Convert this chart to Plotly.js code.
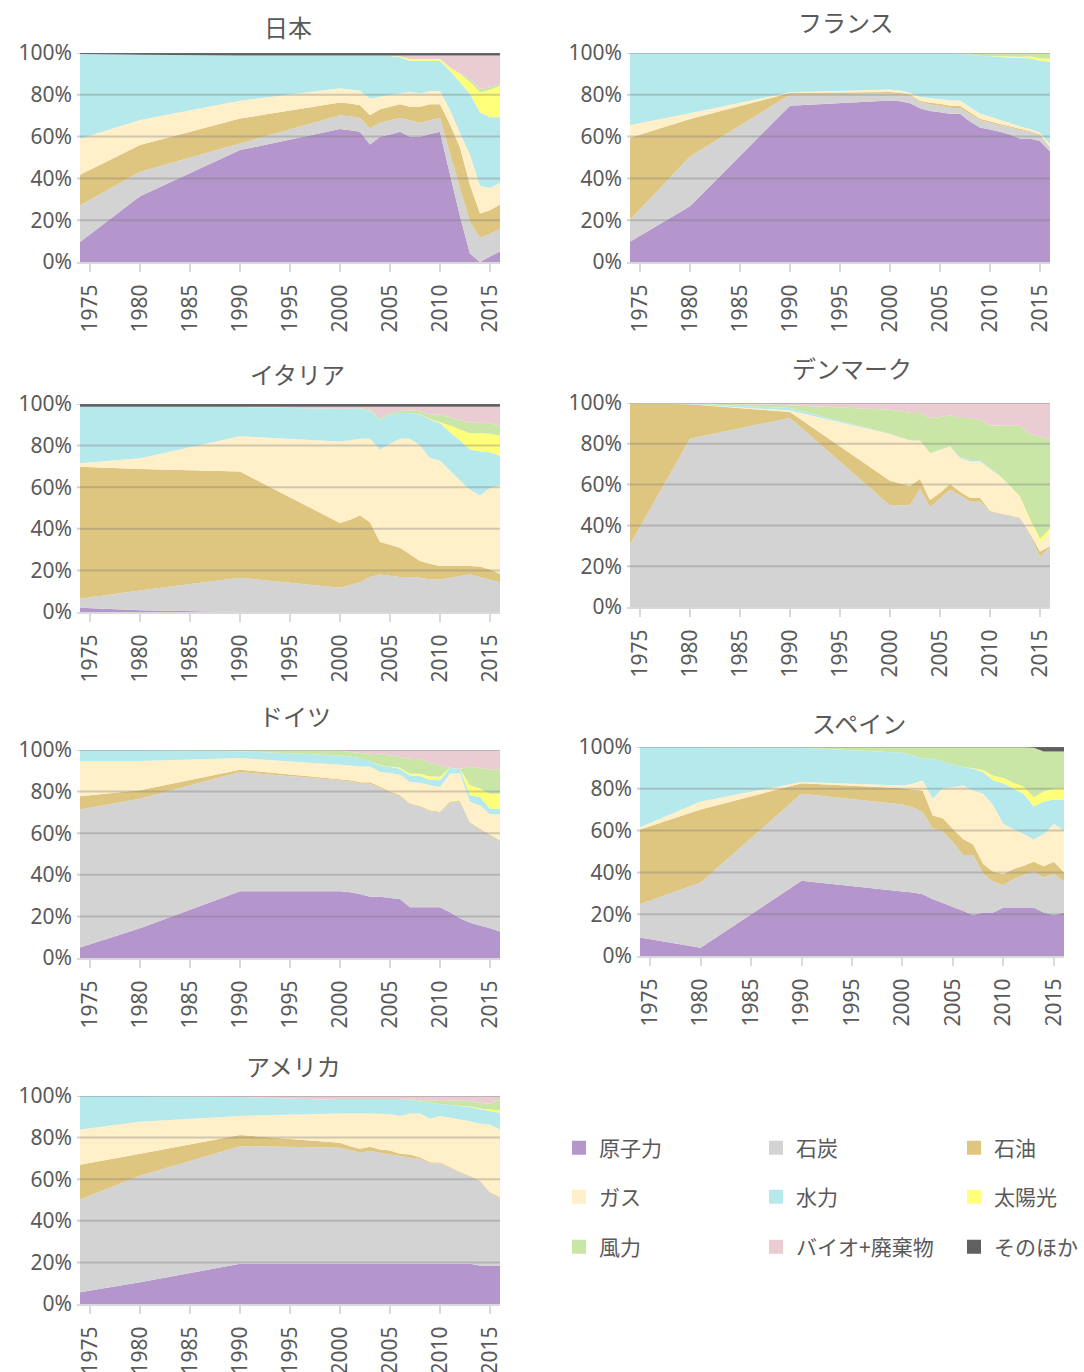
<!DOCTYPE html>
<html>
<head>
<meta charset="utf-8">
<script src="https://cdn.plot.ly/plotly-3.0.1.min.js"></script>
<style>html,body{margin:0;padding:0;background:#fff}#chart{width:1084px;height:1372px}</style>
</head>
<body>
<div id="chart"></div>
<script>
// ---------- data ----------
const years = [1974,1980,1990,2000,2001,2002,2003,2004,2005,2006,2007,2008,2009,2010,2011,2012,2013,2014,2015,2016];
const sources = ['原子力','石炭','石油','ガス','水力','太陽光','風力','バイオ+廃棄物','そのほか'];
const sourceColors = ['#B496CD','#D3D3D3','#DFC680','#FFF0C9','#B6E9EC','#FFFF7A','#C9E6A6','#E9CDD3','#606060'];
const countries = ['日本','フランス','イタリア','デンマーク','ドイツ','スペイン','アメリカ'];
const yTickVals = [0,20,40,60,80,100];
const yTickText = ['0%','20%','40%','60%','80%','100%'];

// shares (%) in order: 原子力, 石炭, 石油, ガス, 水力, 太陽光, 風力, バイオ+廃棄物, そのほか
const japanShares = [
  [9.6,31.6,53.8,63.9,63.4,62.6,56.5,60.2,61.3,62.6,60.2,60.2,61.5,62.6,42,22,4,0,2.7,5.1],
  [17.4,11.7,3.2,6.7,6.7,6.7,7.7,6.7,6.9,6.6,8.0,6.6,6.7,6.7,10,13.5,15.3,11.7,10.9,10.6],
  [14.7,12.9,12,6.1,6.1,6.1,6.4,6.5,6.4,6.6,6.4,7.8,7.6,6.5,14,19.5,17.7,11.6,11.3,11.9],
  [17.3,12,8.5,6.8,6.8,6.9,7.9,6.1,5.7,5.2,7.3,6.4,6.4,6.4,7,7,14.4,13.3,10.7,10.4],
  [40.5,31.3,21.8,15.8,16.3,17,20.8,19.8,18.7,17.4,14.9,15.8,14.6,14.6,18.9,24.3,29.3,35.3,33.9,31.5],
  [0,0,0,0,0,0,0,0,0.2,0.4,0.8,0.8,0.8,0.8,1.5,4,5.9,9.6,13.3,15.2],
  [0,0,0,0,0,0,0,0,0,0,0,0,0,0,0.2,0.3,1.3,1.6,1.1,1.1],
  [0,0,0,0,0,0,0,0,0.1,0.5,1.7,1.7,1.7,1.7,5.6,8.6,11.3,16.1,15.3,13.4],
  [0.5,0.8,1.2,1.2,1.2,1.2,1.2,1.2,1.2,1.2,1.2,1.2,1.2,1.2,1.2,1.2,1.2,1.2,1.2,1.2]
];
const franceShares = [
  [9.7,26.7,74.8,77.3,76.9,76,73.6,72.3,71.7,70.9,70.9,67.2,64.4,63.4,62.3,61,59.1,59.1,57.9,52.9],
  [10.5,23.8,5.3,3.3,3.4,3.5,2.9,3.0,3.1,2.9,2.7,3.6,3.4,3.2,3.1,3.3,4.1,3.1,2.6,1.7],
  [39.2,17.9,0.8,0.7,0.7,0.7,0.7,0.9,0.9,1.0,1.0,0.8,0.7,0.7,0.6,0.6,0.5,0.5,0.5,0.4],
  [6.1,2.8,0.3,1.2,1.0,0.8,1.8,2.1,2.3,2.5,2.7,2.4,2.5,2.3,2.0,1.6,1.1,0.9,0.8,1.5],
  [34.5,28.8,18.8,17.5,18,19,21,21.7,22,22.7,22.6,25.3,27.6,28.8,30.1,31.3,32.8,33.9,34.5,39.3],
  [0,0,0,0,0,0,0,0,0,0,0,0,0,0.1,0.3,0.5,0.6,0.8,1.2,1.4],
  [0,0,0,0,0,0,0,0,0,0,0.1,0.7,1.4,1.5,1.6,1.7,1.8,1.7,2.5,2.8],
  [0,0,0,0,0,0,0,0,0,0,0,0,0,0,0,0,0,0,0,0],
  [0,0,0,0,0,0,0,0,0,0,0,0,0,0,0,0,0,0,0,0]
];
const italyShares = [
  [2.1,0.8,0,0,0,0,0,0,0,0,0,0,0,0,0,0,0,0,0,0],
  [4.3,9.6,16.5,11.7,13,14.4,16.9,18.1,17.5,16.9,16.9,16.5,15.7,15.7,16.5,17.3,18.1,16.9,15.6,14.4],
  [63.7,58.6,51.2,31.2,31.5,32.1,26.4,15.6,14.9,14.1,10.9,8.1,7.6,6.5,5.7,4.9,4.1,5.1,4.9,4.1],
  [1.6,5.2,17.1,39.3,38.3,37,40.2,44.5,48.7,52.5,55.7,55.7,50.9,50.8,46,41.2,36.7,34.2,39.4,42.5],
  [27.3,24.8,14,15.7,15.1,14.4,13.6,14.4,14.1,12.5,12.5,14.9,18.6,18,18.5,19.3,19.4,21.3,17.1,14.4],
  [0,0,0,0,0,0,0,0,0,0,0,0.1,0.3,0.5,3.2,5.3,7.9,8.7,8.9,9.7],
  [0,0,0,0.1,0.2,0.4,0.5,0.6,0.8,1,1.3,1.5,2,3.7,4,4.6,5,5,5.1,4.8],
  [0,0,0.2,1,0.9,0.7,1.4,5.8,3,2,1.7,2.2,3.9,3.8,5.1,6.4,7.8,7.8,8,9.1],
  [1.3,1.3,1.3,1.3,1.3,1.3,1.3,1.3,1.3,1.3,1.3,1.3,1.3,1.3,1.3,1.3,1.3,1.3,1.3,1.3]
];
const denmarkShares = [
  [0,0,0,0,0,0,0,0,0,0,0,0,0,0,0,0,0,0,0,0],
  [30.5,82.3,92.7,49.9,49.9,49.9,58.1,48.8,53.2,57.3,54.8,51.6,51.6,46.6,45.8,44.7,43.3,35.1,24.8,29.4],
  [69,16.9,2.9,12,10.7,9.4,4.6,3.6,2.8,3,1.7,1.9,1.9,0.4,0.3,0.3,0.4,0.8,2.4,0.4],
  [0,0,0.7,22.9,22.5,22.3,18.8,23,21,18.4,16.4,17.8,17.8,20.7,18.1,14,9.8,5.8,4.3,6.1],
  [0.2,0.3,1.2,0.1,0.1,0.1,0.1,0.1,0.1,0.1,0.6,0.8,0.8,0.3,0.1,0.1,0.1,0.1,0.1,0.1],
  [0,0,0,0,0,0,0,0,0,0,0,0,0,0,0.1,0.3,0.5,1.2,2.0,2.5],
  [0,0.3,1.4,11.8,12.8,13.4,13.5,17.2,16,15.2,19.2,20.6,19.4,21,24.8,29.5,34.8,41.8,50,43.5],
  [0,0,1.1,3.3,4,4.9,4.9,7.3,6.9,6,7.3,7.3,8.5,11,11.1,11.1,11.1,15.2,16.4,18],
  [0,0,0,0,0,0,0,0,0,0,0,0,0,0,0,0,0,0,0,0]
];
const germanyShares = [
  [5.1,14.3,32.1,32.1,31.6,30.8,29.5,29.5,28.9,28.4,24.4,24.4,24.4,24.4,22,19.1,16.9,15.6,14.3,12.8],
  [66.3,62.3,57.3,53.3,53.3,53,54.3,52.4,50.6,49.4,49.4,48.2,46.1,45.4,52.6,55.9,47.9,46,44.6,43.2],
  [6.4,4,1.1,0.5,0.5,0.7,0.7,0.5,0.5,0.5,0.5,0.5,0.5,0.5,0.7,0.6,0.5,0.5,0.5,0.5],
  [16.9,14.1,5.6,7,7.2,7.6,7.6,7,8.9,9.8,10.3,11.2,12,11.9,13.4,13.3,9.7,11.3,9.7,12.6],
  [5.3,5.3,3.3,4.5,4.3,4,2.6,3.2,2.9,2.9,3.2,3.2,2.7,3.2,2.8,2,3.3,4,2.7,2.7],
  [0,0,0,0,0,0,0,0.1,0.2,0.5,0.8,1.1,1.5,1.7,0,0.1,4.7,4.1,7.2,7.2],
  [0,0,0.5,2.4,2.1,2.4,3.5,5.2,5.4,5.1,7.2,6.9,6.7,5.4,0,0.2,8.9,9.8,11.7,11.7],
  [0,0,0.1,0.2,1,1.5,1.8,2.1,2.6,3.4,4.2,4.5,6.1,7.5,8.5,9,8.1,8.7,9.3,9.3],
  [0,0,0,0,0,0,0,0,0,0,0,0,0,0,0,0,0,0,0,0]
];
const spainShares = [
  [8.8,4,36,30.9,30.4,29.6,27.2,25.3,23.5,21.6,19.5,20.8,20.8,23.2,23.2,23.2,23.2,20.8,19.5,20.8],
  [16,31.2,41.6,41.6,40.8,39.2,33.9,34.2,30.9,26.7,28.8,18.4,14.7,10.7,13.6,15.5,17.1,16.8,19.7,14.9],
  [35.7,34.9,5.1,7.8,8.5,10.4,6.1,6.4,6.4,7.7,5,4.8,4.8,5.3,4.8,4.5,4.8,5.3,5.9,4.3],
  [1.1,3.8,0.5,1.3,2.7,4.8,8,14.4,20,25.6,25.9,33.6,31.7,24,19.2,15.2,10.6,15.5,18.1,20],
  [38.4,26.1,16.5,15.7,13.6,10.4,19.2,12.8,10.7,8.8,10.4,10.4,12,19.5,19.2,19.2,15.8,15.5,11.7,14.9],
  [0,0,0,0,0,0,0,0,0,0,0.2,1,2.2,2.5,2.8,3.5,4.5,4.8,5.1,5.4],
  [0,0,0.3,2.7,4,5.6,5.6,6.9,8.5,9.6,10.2,11,13.8,14.8,17.2,18.9,23.7,19.1,17.8,17.5],
  [0,0,0,0,0,0,0,0,0,0,0,0,0,0,0,0,0,0,0,0],
  [0,0,0,0,0,0,0,0,0,0,0,0,0,0,0,0,0.3,2.2,2.2,2.2]
];
const usaShares = [
  [5.6,10.5,19.3,19.3,19.3,19.3,19.3,19.3,19.3,19.3,19.3,19.3,19.3,19.3,19.3,19.3,19.3,18.5,18.5,18.5],
  [44.6,51.2,56.6,55.8,54.7,53.4,54.2,53.4,52.6,51.8,51,50.5,48.2,48.2,46.1,43.7,42.1,40.5,34.9,32.1],
  [16.8,10.5,5.3,2.4,1.9,1.9,2.1,1.6,1.9,1.1,1.6,0.8,0.7,0.5,0.5,0.5,0.3,0.3,0.3,0.7],
  [16.9,15.4,9.2,14.1,15.7,17,16,17.2,17.4,18.2,19.7,21,20.9,22.4,23.6,25.2,26.2,27.4,32.6,32.6],
  [16.1,12.4,9.1,6.5,6.5,6.5,6.5,6.6,6.9,7.7,6.5,5.7,7.7,5.6,6.2,6.5,6.8,6.9,6.5,8.1],
  [0,0,0,0,0,0,0,0,0,0,0,0,0,0,0,0.1,0.2,0.4,0.7,1.2],
  [0,0,0,0,0,0,0,0,0,0,0.3,0.7,1.2,1.6,2,2.4,2.7,2.8,2.8,5.2],
  [0,0,0.5,1.9,1.9,1.9,1.9,1.9,1.9,1.9,1.6,2,2,2.4,2.3,2.3,2.4,3.2,3.7,1.6],
  [0,0,0,0,0,0,0,0,0,0,0,0,0,0,0,0,0,0,0,0]
];
const countryShares = [japanShares, franceShares, italyShares, denmarkShares, germanyShares, spainShares, usaShares];

// ---------- layout geometry (pixels) ----------
const W = 1084, H = 1372;
const panels = [
  {px:[77,500],  py:[53,262],   tx:288, ty:27},
  {px:[627,1050],py:[53,262],   tx:846, ty:22},
  {px:[77,500],  py:[404,612],  tx:297, ty:373},
  {px:[627,1050],py:[403,607],  tx:852, ty:368},
  {px:[77,500],  py:[750,958],  tx:295, ty:715},
  {px:[637,1064],py:[747,956],  tx:859, ty:722},
  {px:[77,500],  py:[1096,1304],tx:293, ty:1065}
];
const legendPos = [[580,1148],[777,1148],[975,1148],[580,1197],[777,1197],[975,1197],[580,1247],[777,1247],[975,1247]];

const txtColor = '#595959';
const numFont = {family:'Noto Sans, sans-serif', size:21, color:txtColor};
const jpFont = 'Noto Sans CJK JP, Noto Sans, sans-serif';

const traces = [];
const layout = {
  width: W, height: H,
  margin: {l:0, r:0, t:0, b:0, pad:0},
  paper_bgcolor: '#fff', plot_bgcolor: 'rgba(0,0,0,0)',
  showlegend: true,
  annotations: [], shapes: []
};

panels.forEach((p, i) => {
  const n = i + 1;
  const xa = n === 1 ? 'x' : 'x' + n;
  const ya = n === 1 ? 'y' : 'y' + n;
  const shares = countryShares[i];
  sources.forEach((s, k) => {
    traces.push({
      type: 'scatter', x: years, y: shares[k], name: s,
      xaxis: xa, yaxis: ya,
      stackgroup: 'g' + n, groupnorm: 'percent',
      mode: 'none', fillcolor: sourceColors[k], line: {width: 0},
      showlegend: false, hoverinfo: 'skip'
    });
  });
  layout['xaxis' + (n === 1 ? '' : n)] = {
    domain: [p.px[0] / W, p.px[1] / W], anchor: ya,
    range: [1973.7, 2016], tick0: 1975, dtick: 5, tickangle: -90,
    ticks: 'outside', ticklen: 8, tickwidth: 2, tickcolor: '#D9D9D9',
    showline: true, linecolor: '#D9D9D9', linewidth: 2, layer: 'above traces',
    showgrid: false, zeroline: false, tickfont: numFont, ticklabelstandoff: 4,
    fixedrange: true
  };
  layout['yaxis' + (n === 1 ? '' : n)] = {
    domain: [1 - p.py[1] / H, 1 - p.py[0] / H], anchor: xa,
    range: [0, 100], tickvals: yTickVals, ticktext: yTickText,
    showgrid: false, zeroline: false, showline: false, ticks: '',
    tickfont: numFont, ticklabelstandoff: 4, fixedrange: true
  };
  yTickVals.slice(1).forEach(v => {
    layout.shapes.push({
      type: 'line', xref: xa + ' domain', x0: 0, x1: 1, yref: ya, y0: v, y1: v,
      line: {color: 'rgba(120,120,120,0.34)', width: 2}, layer: 'above'
    });
  });
  layout.annotations.push({
    text: countries[i], xref: 'paper', yref: 'paper',
    x: p.tx / W, y: 1 - p.ty / H, xanchor: 'center', yanchor: 'middle',
    showarrow: false, font: {family: jpFont, size: 24, color: txtColor}
  });
});

// legend entries (one legend per entry so they sit on a 3x3 grid)
sources.forEach((s, k) => {
  const lid = k === 0 ? 'legend' : 'legend' + (k + 1);
  traces.push({
    type: 'scatter', x: [null], y: [null], name: s, mode: 'markers',
    marker: {symbol: 'square', size: 14, color: sourceColors[k]},
    xaxis: 'x', yaxis: 'y', legend: lid, showlegend: true, hoverinfo: 'skip'
  });
  const pos = legendPos[k];
  layout[lid] = {
    x: (pos[0] - 21) / W, y: 1 - pos[1] / H, xanchor: 'left', yanchor: 'middle',
    bgcolor: 'rgba(0,0,0,0)', borderwidth: 0, itemwidth: 30,
    font: {family: jpFont, size: 21, color: txtColor}
  };
});

Plotly.newPlot('chart', traces, layout, {staticPlot: true});
</script>
</body>
</html>
